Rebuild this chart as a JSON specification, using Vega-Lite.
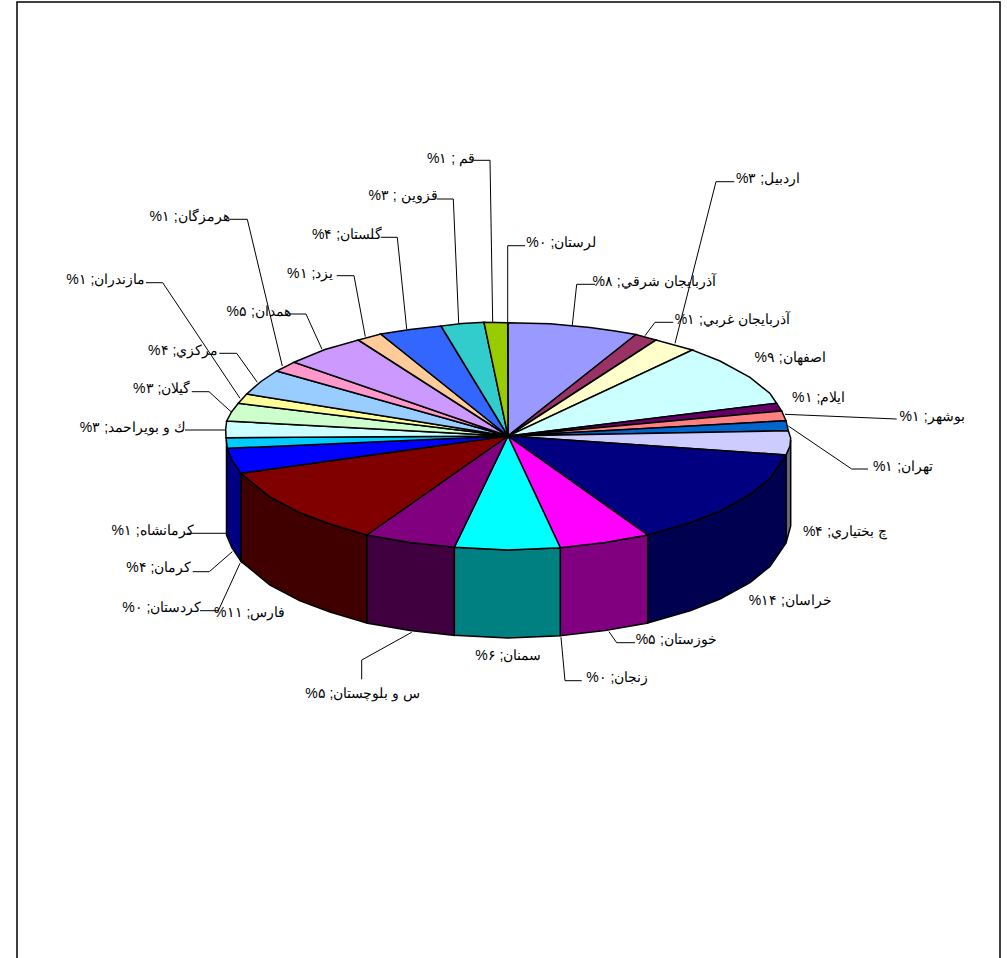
{"$schema":"https://vega.github.io/schema/vega-lite/v6.json","width":1007,"height":958,"padding":0,"autosize":{"type":"none"},"background":"white","view":{"stroke":null},
"datasets":{
"frame":[{"vertex":1,"x":17,"y":958},{"vertex":2,"x":17,"y":2},{"vertex":3,"x":1000,"y":2},{"vertex":4,"x":1000,"y":958}],
"side":[
{"slice":8,"vertex":1,"x":786,"y":455},{"slice":8,"vertex":2,"x":790.7,"y":440},{"slice":8,"vertex":3,"x":790.7,"y":526},{"slice":8,"vertex":4,"x":786,"y":543},
{"slice":9,"vertex":1,"x":647.7,"y":535},{"slice":9,"vertex":2,"x":690,"y":522.8},{"slice":9,"vertex":3,"x":720,"y":511},{"slice":9,"vertex":4,"x":750,"y":494.5},{"slice":9,"vertex":5,"x":770,"y":478.5},{"slice":9,"vertex":6,"x":786,"y":455},{"slice":9,"vertex":7,"x":786,"y":543},{"slice":9,"vertex":8,"x":770,"y":566.5},{"slice":9,"vertex":9,"x":750,"y":582.5},{"slice":9,"vertex":10,"x":720,"y":599},{"slice":9,"vertex":11,"x":690,"y":610.8},{"slice":9,"vertex":12,"x":647.7,"y":623},
{"slice":10,"vertex":1,"x":560.3,"y":547.7},{"slice":10,"vertex":2,"x":605,"y":542.6},{"slice":10,"vertex":3,"x":647.7,"y":535},{"slice":10,"vertex":4,"x":647.7,"y":623},{"slice":10,"vertex":5,"x":605,"y":630.6},{"slice":10,"vertex":6,"x":560.3,"y":635.7},
{"slice":12,"vertex":1,"x":454.3,"y":547.3},{"slice":12,"vertex":2,"x":508,"y":550},{"slice":12,"vertex":3,"x":560.3,"y":547.7},{"slice":12,"vertex":4,"x":560.3,"y":635.7},{"slice":12,"vertex":5,"x":508,"y":638},{"slice":12,"vertex":6,"x":454.3,"y":635.3},
{"slice":13,"vertex":1,"x":366.7,"y":535},{"slice":13,"vertex":2,"x":410,"y":542.5},{"slice":13,"vertex":3,"x":454.3,"y":547.3},{"slice":13,"vertex":4,"x":454.3,"y":635.3},{"slice":13,"vertex":5,"x":410,"y":630.5},{"slice":13,"vertex":6,"x":366.7,"y":623},
{"slice":14,"vertex":1,"x":241,"y":473.3},{"slice":14,"vertex":2,"x":270,"y":497},{"slice":14,"vertex":3,"x":300,"y":512.8},{"slice":14,"vertex":4,"x":330,"y":524},{"slice":14,"vertex":5,"x":366.7,"y":535},{"slice":14,"vertex":6,"x":366.7,"y":623},{"slice":14,"vertex":7,"x":330,"y":612},{"slice":14,"vertex":8,"x":300,"y":600.8},{"slice":14,"vertex":9,"x":270,"y":585},{"slice":14,"vertex":10,"x":241,"y":561.3},
{"slice":16,"vertex":1,"x":226.5,"y":440},{"slice":16,"vertex":2,"x":232,"y":460},{"slice":16,"vertex":3,"x":241,"y":473.3},{"slice":16,"vertex":4,"x":241,"y":561.3},{"slice":16,"vertex":5,"x":232,"y":548},{"slice":16,"vertex":6,"x":226.5,"y":535}
],
"top":[
{"slice":1,"vertex":0,"x":508,"y":436},{"slice":1,"vertex":1,"x":508,"y":322.7},{"slice":1,"vertex":2,"x":550,"y":323.8},{"slice":1,"vertex":3,"x":590,"y":327.4},{"slice":1,"vertex":4,"x":615,"y":331},{"slice":1,"vertex":5,"x":636,"y":334.5},
{"slice":2,"vertex":0,"x":508,"y":436},{"slice":2,"vertex":1,"x":636,"y":334.5},{"slice":2,"vertex":2,"x":656,"y":340},
{"slice":3,"vertex":0,"x":508,"y":436},{"slice":3,"vertex":1,"x":656,"y":340},{"slice":3,"vertex":2,"x":692.3,"y":350},
{"slice":4,"vertex":0,"x":508,"y":436},{"slice":4,"vertex":1,"x":692.3,"y":350},{"slice":4,"vertex":2,"x":720,"y":361},{"slice":4,"vertex":3,"x":750,"y":377.4},{"slice":4,"vertex":4,"x":770,"y":393.5},{"slice":4,"vertex":5,"x":776.7,"y":403.3},
{"slice":5,"vertex":0,"x":508,"y":436},{"slice":5,"vertex":1,"x":776.7,"y":403.3},{"slice":5,"vertex":2,"x":781.7,"y":411},
{"slice":6,"vertex":0,"x":508,"y":436},{"slice":6,"vertex":1,"x":781.7,"y":411},{"slice":6,"vertex":2,"x":786,"y":420.7},
{"slice":7,"vertex":0,"x":508,"y":436},{"slice":7,"vertex":1,"x":786,"y":420.7},{"slice":7,"vertex":2,"x":788.3,"y":430.7},
{"slice":8,"vertex":0,"x":508,"y":436},{"slice":8,"vertex":1,"x":788.3,"y":430.7},{"slice":8,"vertex":2,"x":790.7,"y":438},{"slice":8,"vertex":3,"x":790,"y":446},{"slice":8,"vertex":4,"x":786,"y":455},
{"slice":9,"vertex":0,"x":508,"y":436},{"slice":9,"vertex":1,"x":786,"y":455},{"slice":9,"vertex":2,"x":770,"y":478.5},{"slice":9,"vertex":3,"x":750,"y":494.5},{"slice":9,"vertex":4,"x":720,"y":511},{"slice":9,"vertex":5,"x":690,"y":522.8},{"slice":9,"vertex":6,"x":647.7,"y":535},
{"slice":10,"vertex":0,"x":508,"y":436},{"slice":10,"vertex":1,"x":647.7,"y":535},{"slice":10,"vertex":2,"x":605,"y":542.6},{"slice":10,"vertex":3,"x":560.3,"y":547.7},
{"slice":12,"vertex":0,"x":508,"y":436},{"slice":12,"vertex":1,"x":560.3,"y":547.7},{"slice":12,"vertex":2,"x":508,"y":550},{"slice":12,"vertex":3,"x":454.3,"y":547.3},
{"slice":13,"vertex":0,"x":508,"y":436},{"slice":13,"vertex":1,"x":454.3,"y":547.3},{"slice":13,"vertex":2,"x":410,"y":542.5},{"slice":13,"vertex":3,"x":366.7,"y":535},
{"slice":14,"vertex":0,"x":508,"y":436},{"slice":14,"vertex":1,"x":366.7,"y":535},{"slice":14,"vertex":2,"x":330,"y":524},{"slice":14,"vertex":3,"x":300,"y":512.8},{"slice":14,"vertex":4,"x":270,"y":497},{"slice":14,"vertex":5,"x":241,"y":473.3},
{"slice":16,"vertex":0,"x":508,"y":436},{"slice":16,"vertex":1,"x":241,"y":473.3},{"slice":16,"vertex":2,"x":232,"y":460},{"slice":16,"vertex":3,"x":227.3,"y":448.3},
{"slice":17,"vertex":0,"x":508,"y":436},{"slice":17,"vertex":1,"x":227.3,"y":448.3},{"slice":17,"vertex":2,"x":226,"y":437.7},
{"slice":18,"vertex":0,"x":508,"y":436},{"slice":18,"vertex":1,"x":226,"y":437.7},{"slice":18,"vertex":2,"x":225.7,"y":429},{"slice":18,"vertex":3,"x":226.7,"y":421},
{"slice":19,"vertex":0,"x":508,"y":436},{"slice":19,"vertex":1,"x":226.7,"y":421},{"slice":19,"vertex":2,"x":231.5,"y":412},{"slice":19,"vertex":3,"x":238.3,"y":403.3},
{"slice":20,"vertex":0,"x":508,"y":436},{"slice":20,"vertex":1,"x":238.3,"y":403.3},{"slice":20,"vertex":2,"x":246.7,"y":394},
{"slice":21,"vertex":0,"x":508,"y":436},{"slice":21,"vertex":1,"x":246.7,"y":394},{"slice":21,"vertex":2,"x":261,"y":381.5},{"slice":21,"vertex":3,"x":276.7,"y":371},
{"slice":22,"vertex":0,"x":508,"y":436},{"slice":22,"vertex":1,"x":276.7,"y":371},{"slice":22,"vertex":2,"x":294,"y":362.3},
{"slice":23,"vertex":0,"x":508,"y":436},{"slice":23,"vertex":1,"x":294,"y":362.3},{"slice":23,"vertex":2,"x":325,"y":349.5},{"slice":23,"vertex":3,"x":358.3,"y":340},
{"slice":24,"vertex":0,"x":508,"y":436},{"slice":24,"vertex":1,"x":358.3,"y":340},{"slice":24,"vertex":2,"x":380.7,"y":334},
{"slice":25,"vertex":0,"x":508,"y":436},{"slice":25,"vertex":1,"x":380.7,"y":334},{"slice":25,"vertex":2,"x":410,"y":329.5},{"slice":25,"vertex":3,"x":441,"y":326},
{"slice":26,"vertex":0,"x":508,"y":436},{"slice":26,"vertex":1,"x":441,"y":326},{"slice":26,"vertex":2,"x":462,"y":323.5},{"slice":26,"vertex":3,"x":484,"y":322.3},
{"slice":27,"vertex":0,"x":508,"y":436},{"slice":27,"vertex":1,"x":484,"y":322.3},{"slice":27,"vertex":2,"x":507.7,"y":322.7}
],
"leaders":[
{"slice":27,"vertex":1,"x":473.3,"y":160.3},{"slice":27,"vertex":2,"x":490,"y":160.3},{"slice":27,"vertex":3,"x":492.7,"y":322.3},
{"slice":26,"vertex":1,"x":436.7,"y":199},{"slice":26,"vertex":2,"x":453.3,"y":199},{"slice":26,"vertex":3,"x":458.7,"y":323.3},
{"slice":25,"vertex":1,"x":380.7,"y":237.3},{"slice":25,"vertex":2,"x":397.3,"y":237.3},{"slice":25,"vertex":3,"x":406.7,"y":329},
{"slice":24,"vertex":1,"x":336.7,"y":275.7},{"slice":24,"vertex":2,"x":354,"y":275.7},{"slice":24,"vertex":3,"x":365.3,"y":336.7},
{"slice":23,"vertex":1,"x":289,"y":314},{"slice":23,"vertex":2,"x":306,"y":314},{"slice":23,"vertex":3,"x":322,"y":349.3},
{"slice":22,"vertex":1,"x":230,"y":219.3},{"slice":22,"vertex":2,"x":247.3,"y":219.3},{"slice":22,"vertex":3,"x":282.3,"y":366},
{"slice":21,"vertex":1,"x":219.3,"y":353.3},{"slice":21,"vertex":2,"x":236.7,"y":353.3},{"slice":21,"vertex":3,"x":257.3,"y":382.3},
{"slice":20,"vertex":1,"x":146,"y":282.7},{"slice":20,"vertex":2,"x":162.7,"y":282.7},{"slice":20,"vertex":3,"x":240,"y":398.3},
{"slice":19,"vertex":1,"x":191.7,"y":391.7},{"slice":19,"vertex":2,"x":209,"y":391.7},{"slice":19,"vertex":3,"x":231,"y":411.7},
{"slice":18,"vertex":1,"x":185,"y":430},{"slice":18,"vertex":2,"x":225,"y":430},
{"slice":17,"vertex":1,"x":186.7,"y":533.3},{"slice":17,"vertex":2,"x":226,"y":533.3},
{"slice":16,"vertex":1,"x":192.7,"y":571.7},{"slice":16,"vertex":2,"x":209.3,"y":571.7},{"slice":16,"vertex":3,"x":232.3,"y":551.7},
{"slice":15,"vertex":1,"x":200,"y":610.7},{"slice":15,"vertex":2,"x":218.3,"y":610.7},{"slice":15,"vertex":3,"x":240,"y":563.3},
{"slice":13,"vertex":1,"x":361.7,"y":679.3},{"slice":13,"vertex":2,"x":361.7,"y":660},{"slice":13,"vertex":3,"x":411.7,"y":632.3},
{"slice":11,"vertex":1,"x":581.7,"y":680.7},{"slice":11,"vertex":2,"x":565,"y":680.7},{"slice":11,"vertex":3,"x":561,"y":637.3},
{"slice":10,"vertex":1,"x":635,"y":642.7},{"slice":10,"vertex":2,"x":616.7,"y":642.7},{"slice":10,"vertex":3,"x":609,"y":631.7},
{"slice":7,"vertex":1,"x":868,"y":469},{"slice":7,"vertex":2,"x":851.7,"y":469},{"slice":7,"vertex":3,"x":788.3,"y":426},
{"slice":6,"vertex":1,"x":896.7,"y":419},{"slice":6,"vertex":2,"x":785,"y":414.3},
{"slice":3,"vertex":1,"x":734.3,"y":181.7},{"slice":3,"vertex":2,"x":716,"y":181.7},{"slice":3,"vertex":3,"x":675,"y":343.3},
{"slice":2,"vertex":1,"x":673.3,"y":322.3},{"slice":2,"vertex":2,"x":655,"y":322.3},{"slice":2,"vertex":3,"x":645,"y":335.7},
{"slice":1,"vertex":1,"x":595,"y":284.3},{"slice":1,"vertex":2,"x":576.7,"y":284.3},{"slice":1,"vertex":3,"x":572.3,"y":325},
{"slice":28,"vertex":1,"x":525,"y":245.7},{"slice":28,"vertex":2,"x":507.7,"y":245.7},{"slice":28,"vertex":3,"x":507.7,"y":322.7}
],
"labels":[
{"slice":1,"province":"آذربايجان شرقي","share":8,"label":"آذربايجان شرقي; ۸‏%‏","x":654,"y":281.7},
{"slice":2,"province":"آذربايجان غربي","share":1,"label":"آذربايجان غربي; ۱‏%‏","x":732.2,"y":320},
{"slice":3,"province":"اردبيل","share":3,"label":"اردبيل; ۳‏%‏","x":768,"y":179},
{"slice":4,"province":"اصفهان","share":9,"label":"اصفهان; ۹‏%‏","x":790,"y":358.3},
{"slice":5,"province":"ايلام","share":1,"label":"ايلام; ۱‏%‏","x":818.7,"y":398.3},
{"slice":6,"province":"بوشهر","share":1,"label":"بوشهر; ۱‏%‏","x":932,"y":416.7},
{"slice":7,"province":"تهران","share":1,"label":"تهران; ۱‏%‏","x":903,"y":467},
{"slice":8,"province":"چ بختياري","share":4,"label":"چ بختياري; ۴‏%‏","x":845,"y":531.7},
{"slice":9,"province":"خراسان","share":14,"label":"خراسان; ۱۴‏%‏","x":790.3,"y":601},
{"slice":10,"province":"خوزستان","share":5,"label":"خوزستان; ۵‏%‏","x":676.3,"y":640},
{"slice":11,"province":"زنجان","share":0,"label":"زنجان; ۰‏%‏","x":617.3,"y":678.3},
{"slice":12,"province":"سمنان","share":6,"label":"سمنان; ۶‏%‏","x":508.3,"y":656},
{"slice":13,"province":"س و بلوچستان","share":5,"label":"س و بلوچستان; ۵‏%‏","x":362.7,"y":694.3},
{"slice":14,"province":"فارس","share":11,"label":"فارس; ۱۱‏%‏","x":249.7,"y":612.7},
{"slice":15,"province":"كردستان","share":0,"label":"كردستان; ۰‏%‏","x":161.8,"y":608.3},
{"slice":16,"province":"كرمان","share":4,"label":"كرمان; ۴‏%‏","x":158.8,"y":568.3},
{"slice":17,"province":"كرمانشاه","share":1,"label":"كرمانشاه; ۱‏%‏","x":152.5,"y":530.7},
{"slice":18,"province":"ك و بويراحمد","share":3,"label":"ك و بويراحمد; ۳‏%‏","x":132.8,"y":427.7},
{"slice":19,"province":"گيلان","share":3,"label":"گيلان; ۳‏%‏","x":161.7,"y":389},
{"slice":20,"province":"مازندران","share":1,"label":"مازندران; ۱‏%‏","x":105.8,"y":280},
{"slice":21,"province":"مركزي","share":4,"label":"مركزي; ۴‏%‏","x":183.2,"y":350.7},
{"slice":22,"province":"هرمزگان","share":1,"label":"هرمزگان; ۱‏%‏","x":189.5,"y":217.3},
{"slice":23,"province":"همدان","share":5,"label":"همدان; ۵‏%‏","x":258.7,"y":312.3},
{"slice":24,"province":"يزد","share":1,"label":"يزد; ۱‏%‏","x":310.2,"y":274.3},
{"slice":25,"province":"گلستان","share":4,"label":"گلستان; ۴‏%‏","x":347,"y":235},
{"slice":26,"province":"قزوين","share":3,"label":"قزوين ; ۳‏%‏","x":403,"y":196},
{"slice":27,"province":"قم","share":1,"label":"قم ; ۱‏%‏","x":451,"y":159},
{"slice":28,"province":"لرستان","share":0,"label":"لرستان; ۰‏%‏","x":561.3,"y":243}
]},
"data":{"name":"frame"},
"encoding":{"x":{"field":"x","type":"quantitative","scale":{"domain":[0,1007]},"axis":null},"y":{"field":"y","type":"quantitative","scale":{"domain":[958,0]},"axis":null}},
"layer":[
{"data":{"name":"frame"},"mark":{"type":"line","stroke":"black","strokeWidth":1.5},"encoding":{"order":{"field":"vertex","type":"quantitative"}}},
{"data":{"name":"side"},"mark":{"type":"line","interpolate":"linear-closed","stroke":"black","strokeWidth":1.5},"encoding":{"order":{"field":"vertex","type":"quantitative"},"fill":{"field":"slice","type":"nominal","legend":null,"scale":{"domain":[8,9,10,12,13,14,16],"range":["#666680","#000050","#800080","#008080","#400040","#400000","#000080"]}}}},
{"data":{"name":"top"},"mark":{"type":"line","interpolate":"linear-closed","stroke":"black","strokeWidth":1.5},"encoding":{"order":{"field":"vertex","type":"quantitative"},"fill":{"field":"slice","type":"nominal","legend":null,"scale":{"domain":[1,2,3,4,5,6,7,8,9,10,12,13,14,16,17,18,19,20,21,22,23,24,25,26,27],"range":["#9999FF","#993366","#FFFFCC","#CCFFFF","#660066","#FF8080","#0066CC","#CCCCFF","#000080","#FF00FF","#00FFFF","#800080","#800000","#0000FF","#00CCFF","#CCFFFF","#CCFFCC","#FFFF99","#99CCFF","#FF99CC","#CC99FF","#FFCC99","#3366FF","#33CCCC","#99CC00"]}}}},
{"data":{"name":"leaders"},"mark":{"type":"line","stroke":"black","strokeWidth":1},"encoding":{"order":{"field":"vertex","type":"quantitative"},"detail":{"field":"slice","type":"nominal"}}},
{"data":{"name":"labels"},"mark":{"type":"text","font":"Liberation Sans","fontSize":14,"color":"black","align":"center","baseline":"middle"},"encoding":{"text":{"field":"label","type":"nominal"}}}
],
"resolve":{"scale":{"fill":"independent"}}}
